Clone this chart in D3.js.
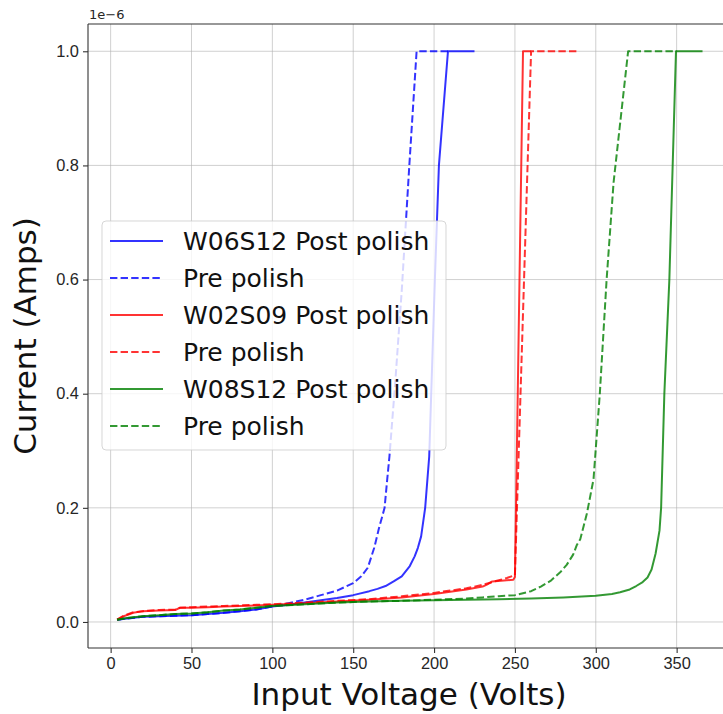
<!DOCTYPE html>
<html lang="en">
  <head>
    <meta charset="utf-8">
    <title>IV curves</title>
    <style>
      body { margin: 0; background: #fff; }
      svg { display: block; font-family: "DejaVu Sans", sans-serif; }
      .grid line { stroke: #b0b0b0; stroke-opacity: 0.6; stroke-width: 1; }
      .axis path, .axis line { stroke: #333; stroke-width: 1.1; }
      .axis text { font-size: 16.4px; fill: #262626; }
      .curve { fill: none; stroke-width: 2; stroke-opacity: 0.8; stroke-linejoin: round; }
    </style>
  </head>
  <body>
    <svg id="chart"></svg>
    <script src="https://cdn.jsdelivr.net/npm/d3@7"></script>
    <script>

      // values are in units of 1e-6 A
      var blueV    = [4, 10, 20, 30, 40, 50, 60, 70, 80, 90, 100, 110, 120, 130, 140, 150, 160, 165, 170, 175, 180, 185, 188, 190, 192, 194.5, 197, 200.5, 203, 208.6, 225];
      var blueI    = [0.004, 0.006, 0.009, 0.010, 0.011, 0.012, 0.014, 0.016, 0.019, 0.022, 0.027, 0.030, 0.034, 0.038, 0.042, 0.047, 0.054, 0.058, 0.063, 0.071, 0.080, 0.098, 0.115, 0.13, 0.15, 0.2, 0.29, 0.6, 0.8, 1.0, 1.0];
      var bluePreV = [4, 10, 20, 30, 40, 50, 60, 70, 80, 90, 100, 110, 120, 130, 140, 150, 155, 159, 163, 166, 169.4, 171, 172.4, 176, 180, 184.7, 189.2, 209];
      var bluePreI = [0.004, 0.006, 0.009, 0.010, 0.011, 0.012, 0.014, 0.016, 0.019, 0.022, 0.027, 0.033, 0.039, 0.047, 0.055, 0.068, 0.08, 0.095, 0.13, 0.165, 0.2, 0.249, 0.29, 0.42, 0.58, 0.8, 1.0, 1.0];

      var redV     = [4, 8, 14, 20, 30, 40, 43, 50, 60, 70, 80, 90, 100, 120, 140, 160, 180, 200, 210, 220, 230, 233, 236, 245, 249, 250, 255, 260];
      var redI     = [0.004, 0.010, 0.016, 0.019, 0.020, 0.021, 0.025, 0.025, 0.026, 0.027, 0.028, 0.029, 0.030, 0.033, 0.036, 0.039, 0.043, 0.049, 0.053, 0.057, 0.062, 0.066, 0.071, 0.073, 0.074, 0.079, 1.0, 1.0];
      var redPreV  = [4, 8, 14, 20, 30, 40, 43, 50, 60, 70, 80, 90, 100, 120, 140, 160, 180, 200, 210, 220, 230, 236, 240, 245, 250, 260, 290];
      var redPreI  = [0.004, 0.011, 0.017, 0.019, 0.021, 0.022, 0.025, 0.026, 0.027, 0.028, 0.029, 0.030, 0.031, 0.034, 0.037, 0.040, 0.045, 0.051, 0.055, 0.059, 0.065, 0.070, 0.073, 0.077, 0.082, 1.0, 1.0];

      var greenV    = [4, 10, 20, 30, 40, 50, 60, 70, 80, 90, 100, 120, 140, 160, 180, 200, 220, 240, 260, 280, 300, 310, 315, 321, 325, 329, 332, 334.5, 337, 339.4, 340.4, 342.4, 345.5, 349.6, 366];
      var greenI    = [0.004, 0.007, 0.010, 0.012, 0.014, 0.015, 0.017, 0.020, 0.022, 0.025, 0.028, 0.031, 0.034, 0.036, 0.037, 0.038, 0.039, 0.040, 0.041, 0.043, 0.046, 0.049, 0.052, 0.057, 0.063, 0.070, 0.078, 0.092, 0.12, 0.16, 0.2, 0.4, 0.6, 1.0, 1.0];
      var greenPreV = [4, 10, 20, 30, 40, 50, 60, 70, 80, 90, 100, 120, 140, 160, 180, 200, 220, 230, 240, 250, 260, 266, 272, 278, 282, 286, 288.3, 290.4, 294.5, 298.6, 302.5, 306.7, 311, 320, 350];
      var greenPreI = [0.004, 0.007, 0.010, 0.012, 0.014, 0.015, 0.017, 0.020, 0.022, 0.025, 0.028, 0.031, 0.034, 0.036, 0.037, 0.039, 0.041, 0.043, 0.045, 0.047, 0.054, 0.062, 0.072, 0.087, 0.100, 0.118, 0.135, 0.145, 0.19, 0.25, 0.4, 0.6, 0.77, 1.0, 1.0];

      var labels = ["W06S12 Post polish", "Pre polish", "W02S09 Post polish", "Pre polish", "W08S12 Post polish", "Pre polish"];
      var colors = ["blue", "blue", "red", "red", "green", "green"];
      var dashed = [false, true, false, true, false, true];

      var xTicks = [0, 50, 100, 150, 200, 250, 300, 350];
      var yTicks = [0.0, 0.2, 0.4, 0.6, 0.8, 1.0];

      var series = [
        [blueV, blueI], [bluePreV, bluePreI],
        [redV, redI], [redPreV, redPreI],
        [greenV, greenI], [greenPreV, greenPreI]
      ].map(function(s, i) {
        return {
          label: labels[i], color: colors[i], dashed: dashed[i],
          points: s[0].map(function(v, j) { return {v: v, c: s[1][j]}; })
        };
      });

      var width = 723, height = 714;
      var m = {left: 88, right: 730, top: 24, bottom: 648};

      var x = d3.scaleLinear().domain([-14, 383]).range([m.left, m.right]);
      var y = d3.scaleLinear().domain([-0.0456, 1.0478]).range([m.bottom, m.top]);

      var svg = d3.select("#chart").attr("width", width).attr("height", height);

      svg.append("defs").append("clipPath").attr("id", "plot")
        .append("rect").attr("x", m.left).attr("y", m.top)
        .attr("width", m.right - m.left).attr("height", m.bottom - m.top);

      // grid
      var grid = svg.append("g").attr("class", "grid");
      grid.selectAll(".gx").data(xTicks).enter().append("line")
        .attr("x1", function(d) { return x(d); }).attr("x2", function(d) { return x(d); })
        .attr("y1", m.top).attr("y2", m.bottom);
      grid.selectAll(".gy").data(yTicks).enter().append("line")
        .attr("x1", m.left).attr("x2", m.right)
        .attr("y1", function(d) { return y(d); }).attr("y2", function(d) { return y(d); });

      // curves
      var line = d3.line()
        .x(function(d) { return x(d.v); })
        .y(function(d) { return y(d.c); });

      svg.append("g").attr("clip-path", "url(#plot)")
        .selectAll("path").data(series).enter().append("path")
        .attr("class", "curve")
        .attr("d", function(d) { return line(d.points); })
        .attr("stroke", function(d) { return d.color; })
        .attr("stroke-dasharray", function(d) { return d.dashed ? "7.4,3.2" : null; });

      // axes
      svg.append("g").attr("class", "axis")
        .attr("transform", "translate(0," + m.bottom + ")")
        .call(d3.axisBottom(x).tickValues(xTicks).tickSize(5).tickPadding(4).tickFormat(d3.format("d")))
        .call(function(g) { g.select(".domain").attr("d", "M" + m.left + ",0H" + m.right); });

      svg.append("g").attr("class", "axis")
        .attr("transform", "translate(" + m.left + ",0)")
        .call(d3.axisLeft(y).tickValues(yTicks).tickSize(5).tickPadding(4).tickFormat(d3.format(".1f")))
        .call(function(g) { g.select(".domain").attr("d", "M0," + m.top + "V" + m.bottom); });

      svg.append("line")
        .attr("x1", m.left).attr("x2", m.right).attr("y1", m.top).attr("y2", m.top)
        .attr("stroke", "#333").attr("stroke-width", 1.1);

      svg.append("text")
        .attr("x", m.left + 1).attr("y", 19)
        .attr("font-size", 13).attr("fill", "#262626")
        .text("1e\u22126");

      // axis labels
      svg.append("text")
        .attr("x", 409).attr("y", 705)
        .attr("text-anchor", "middle")
        .attr("font-size", 31).attr("fill", "#111")
        .text("Input Voltage (Volts)");

      svg.append("text")
        .attr("transform", "translate(36,336) rotate(-90)")
        .attr("text-anchor", "middle")
        .attr("font-size", 31).attr("fill", "#111")
        .text("Current (Amps)");

      // legend
      var legend = svg.append("g").attr("transform", "translate(102,221)");
      legend.append("rect")
        .attr("width", 344).attr("height", 229).attr("rx", 4)
        .attr("fill", "#fff").attr("fill-opacity", 0.8)
        .attr("stroke", "#ccc").attr("stroke-opacity", 0.8);

      var item = legend.selectAll(".item").data(series).enter().append("g")
        .attr("transform", function(d, i) { return "translate(0," + (20 + i * 37) + ")"; });

      item.append("line")
        .attr("x1", 8).attr("x2", 61)
        .attr("stroke", function(d) { return d.color; })
        .attr("stroke-width", 2).attr("stroke-opacity", 0.8)
        .attr("stroke-dasharray", function(d) { return d.dashed ? "7.4,3.2" : null; });

      item.append("text")
        .attr("x", 81).attr("y", 9)
        .attr("font-size", 25).attr("fill", "#111")
        .text(function(d) { return d.label; });

    </script>
  </body>
</html>
